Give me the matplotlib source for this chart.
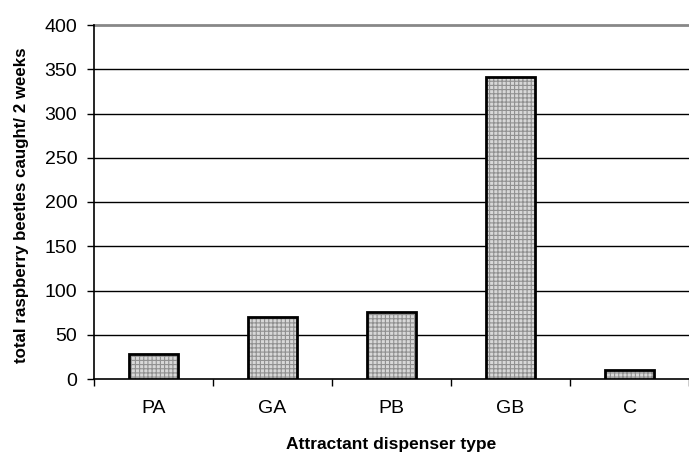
import matplotlib
matplotlib.use("Agg")
import matplotlib.pyplot as plt
import numpy as np

categories = ["PA", "GA", "PB", "GB", "C"]
values = [28, 70, 76, 341, 10]
yticks = [0, 50, 100, 150, 200, 250, 300, 350, 400]

plt.rcParams['font.family'] = ['Liberation Sans', 'DejaVu Sans']
plt.rcParams['hatch.linewidth'] = 0.8

fig = plt.figure(figsize=(6.89, 4.55), dpi=100)
ax = fig.add_axes([94/689, 1-379/455, 1-94/689, (379-25)/455])

x = np.arange(len(categories))
ax.bar(x, values, width=0.41, color='#d8d8d8', edgecolor='#909090', hatch='++++', linewidth=0, zorder=3)
ax.bar(x, values, width=0.41, color='none', edgecolor='black', linewidth=2, zorder=4)

ax.set_xlim(-0.5, len(categories)-0.5)
ax.set_ylim(0, 400)
ax.set_yticks(yticks)
ax.set_yticklabels([str(v) for v in yticks], fontsize=14)
ax.set_xticks(x)
ax.set_xticklabels(categories, fontsize=14)
ax.tick_params(axis='x', length=0, pad=15)
ax.set_xticks(np.arange(-0.5, len(categories)), minor=True)
ax.tick_params(axis='x', which='minor', length=5, width=1, direction='out')
ax.tick_params(axis='y', length=5, width=1, direction='out', pad=7)

for v in yticks[1:-1]:
    ax.axhline(v, color='black', linewidth=1, zorder=1)
ax.axhline(400, color='#888888', linewidth=2, zorder=1, clip_on=False)

for s in ['top', 'right']:
    ax.spines[s].set_visible(False)
ax.spines['left'].set_color('black')
ax.spines['bottom'].set_color('black')
ax.spines['left'].set_linewidth(1.2)
ax.spines['bottom'].set_linewidth(1.2)

ax.set_ylabel("total raspberry beetles caught/ 2 weeks", fontsize=12.2, fontweight='bold')
ax.yaxis.set_label_coords((29-94)/595, 0.49)
ax.set_xlabel("Attractant dispenser type", fontsize=12.5, fontweight='bold')
ax.xaxis.set_label_coords(0.5, (379-437)/354)

fig.savefig("out.png", dpi=100)
